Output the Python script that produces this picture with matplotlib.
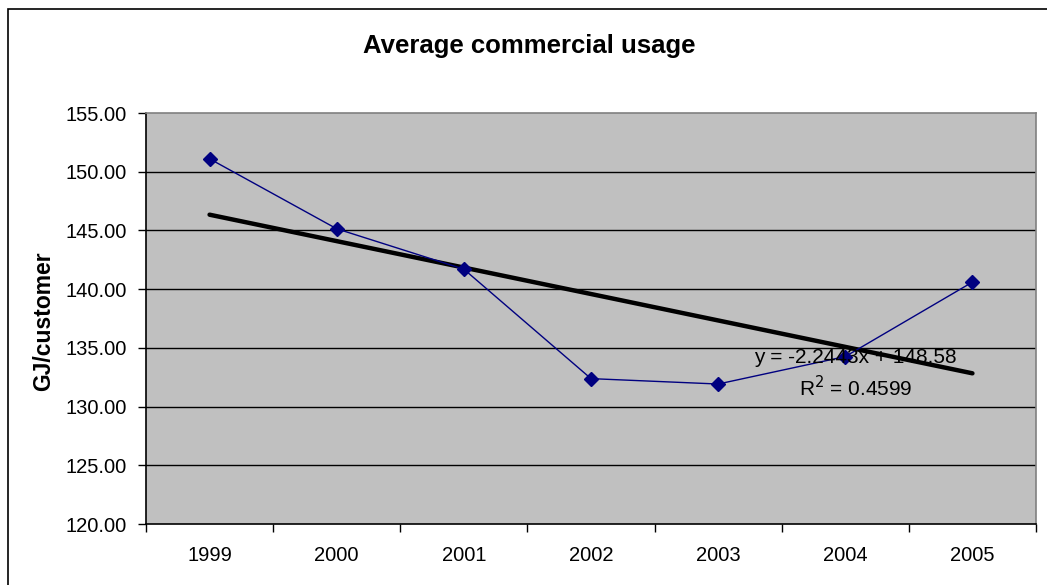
import matplotlib.pyplot as plt
import numpy as np
from matplotlib.patches import Rectangle

years = ["1999", "2000", "2001", "2002", "2003", "2004", "2005"]
usage = [151.10, 145.14, 141.70, 132.38, 131.92, 134.26, 140.60]
y_ticks = [120, 125, 130, 135, 140, 145, 150, 155]
trend_label = "y = -2.2443x + 148.58"
r2_label = "R$^2$ = 0.4599"

plt.rcParams["font.family"] = ["Liberation Sans", "DejaVu Sans"]

fig = plt.figure(figsize=(10.47, 5.85), dpi=100)
ax = fig.add_axes([146 / 1047, 1 - 524 / 585, 890 / 1047, 411 / 585])

# outer chart border (runs off the right/bottom of the picture)
fig.patches.append(Rectangle((8 / 1047, -0.1), 1.2, 1 - 9 / 585 + 0.1,
                             transform=fig.transFigure, fill=False,
                             edgecolor="black", linewidth=1.2))

x = np.arange(1, len(years) + 1)
ax.set_facecolor("#c0c0c0")
for v in y_ticks[1:-1]:
    ax.axhline(v, color="black", linewidth=1, zorder=1)

ax.plot(x, usage, color="#000080", linewidth=1, marker="D", markersize=7,
        zorder=3)

# linear trend
coef = np.polyfit(x, usage, 1)
ax.plot(x, np.polyval(coef, x), color="black", linewidth=3.2, zorder=2,
        solid_capstyle="round")

ax.text(6.08, 134.2, trend_label, ha="center", va="center", fontsize=15,
        zorder=4)
ax.text(6.08, 131.6, r2_label, ha="center", va="center", fontsize=15,
        zorder=4)

ax.set_xlim(0.5, len(years) + 0.5)
ax.set_ylim(120, 155)
ax.set_yticks(y_ticks)
ax.set_yticklabels(["%.2f" % v for v in y_ticks])
ax.set_xticks(x)
ax.set_xticklabels(years)
ax.set_xticks(np.arange(0.5, len(years) + 1), minor=True)
ax.tick_params(axis="x", which="major", length=0, pad=16, labelsize=14.5)
ax.tick_params(axis="x", which="minor", length=6, width=1, direction="out")
ax.tick_params(axis="y", length=6, width=1, direction="out", pad=8,
               labelsize=14.5)

for s in ["top", "right"]:
    ax.spines[s].set_color("#808080")
    ax.spines[s].set_linewidth(1.2)
for s in ["left", "bottom"]:
    ax.spines[s].set_color("black")
    ax.spines[s].set_linewidth(1.2)

ax.set_ylabel("GJ/customer", fontsize=16.5, fontweight="bold")
ax.yaxis.set_label_coords(55 / 1047, 1 - 321 / 585, transform=fig.transFigure)
fig.text(529 / 1047, 1 - 53 / 585, "Average commercial usage",
         ha="center", va="baseline", fontsize=18.5, fontweight="bold")

plt.savefig("out.png", dpi=100)
